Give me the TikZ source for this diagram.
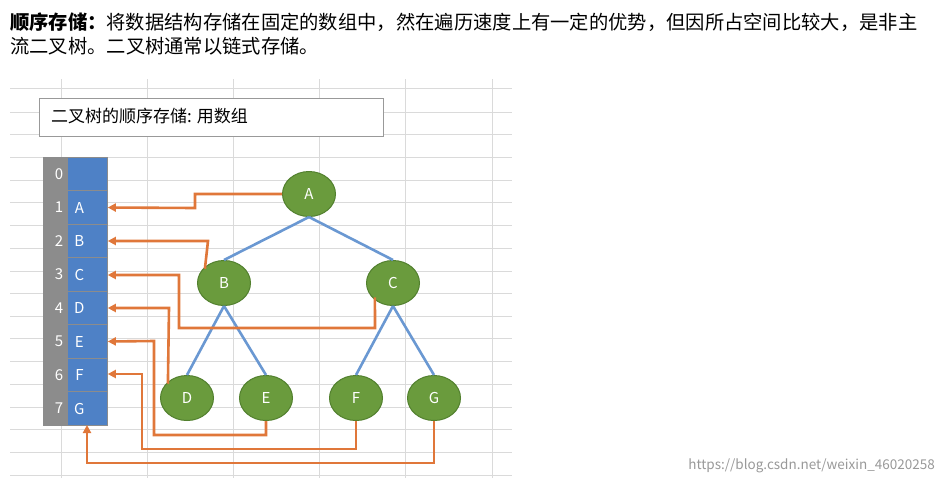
\documentclass[tikz,border=0pt]{standalone}
\usepackage{fontspec}
\setmainfont{Noto Sans CJK SC}
\usetikzlibrary{shapes.geometric,arrows.meta}
\definecolor{tg}{HTML}{6A9B3D}
\definecolor{tgd}{HTML}{52802E}
\definecolor{ab}{HTML}{4E81C6}
\definecolor{ag}{HTML}{8C8C8C}
\definecolor{orr}{HTML}{E0773A}
\definecolor{eb}{HTML}{6A98D2}
\definecolor{gl}{HTML}{DADADA}
\tikzset{
 tn/.style={ellipse,fill=tg,draw=tgd,line width=1pt,minimum width=53pt,minimum height=45pt,inner sep=0pt,text=white,font=\fontsize{15}{15}\selectfont},
 idx/.style={rectangle,fill=ag,draw=black!45,line width=0.8pt,minimum width=24pt,minimum height=33.5pt,inner sep=0pt,text=white,font=\fontsize{15}{15}\selectfont},
 val/.style={rectangle,fill=ab,draw=black!45,line width=0.8pt,minimum width=40pt,minimum height=33.5pt,inner sep=0pt,text=white,font=\fontsize{15}{15}\selectfont,anchor=west},
 te/.style={eb,line width=2.6pt},
 oa/.style={orr,line width=2.6pt,-{Triangle[length=8pt,width=8pt]}},
}
\begin{document}
\begin{tikzpicture}[x=1pt,y=-1pt]
\useasboundingbox (0,0) rectangle (942,483);
\fill[white] (0,0) rectangle (942,483);
% grid
\foreach \yy in {88,112,134,157,180,202,225,248,271,293,316,338,361,384,407,429,452,475}
  \draw[gl,line width=0.9pt] (10,\yy) -- (512,\yy);
\foreach \xx in {61,147,233,319,405,492}
  \draw[gl,line width=0.9pt] (\xx,79) -- (\xx,478);
% top text
\node[anchor=west,inner sep=0pt,font=\fontsize{19.3}{19}\selectfont] (t1) at (10,22) {\textbf{顺序存储：}将数据结构存储在固定的数组中，然在遍历速度上有一定的优势，但因所占空间比较大，是非主};
\node[anchor=west,inner sep=0pt,font=\fontsize{19.3}{19}\selectfont] (t2) at (10,46) {流二叉树。二叉树通常以链式存储。};
% title box
\node[draw=black!40,fill=white,line width=0.9pt,minimum width=344pt,minimum height=38pt,anchor=north west,inner sep=0pt] (box) at (39,98) {};
\node[anchor=west,inner sep=0pt,font=\fontsize{17}{17}\selectfont] (title) at (51,116) {二叉树的顺序存储: 用数组};
% array
\foreach \i/\v in {0/,1/A,2/B,3/C,4/D,5/E,6/F,7/G}{
  \node[idx] (i\i) at (55,{174+33.5*\i}) {\hspace*{8pt}\i};
  \node[val] (v\i) at (67,{174+33.5*\i}) {\hspace*{-16pt}\v};
}
\coordinate (gend) at (87,425);
% tree
\node[tn] (A) at (309,194) {A};
\node[tn] (B) at (224,283) {B};
\node[tn] (C) at (393,283) {C};
\node[tn] (D) at (187,398) {D};
\node[tn] (E) at (266,398) {E};
\node[tn] (F) at (356,398) {F};
\node[tn] (G) at (434,398) {G};
\draw[te] (A.south) -- (B.north);
\draw[te] (A.south) -- (C.north);
\draw[te] (B.south) -- (D.north);
\draw[te] (B.south) -- (E.north);
\draw[te] (C.south) -- (F.north);
\draw[te] (C.south) -- (G.north);
% orange
\draw[oa] (A.west) -- (195,194) -- (195,208) -- (v1.east);
\draw[oa] (B.north west) ++(0,2) -- (208,241) -- (v2.east);
\draw[oa] (C.south west) ++(1,-2) -- (375,328) -- (179,328) -- (179,275) -- (v3.east|-0,275);
\draw[oa] (D.north west) ++(0,2) -- (169,308) -- (v4.east|-0,308);
\draw[oa] (E.south) -- (266,435) -- (154,435) -- (154,341) -- (v5.east);
\draw[oa] (F.south) -- (356,449) -- (142,449) -- (142,374) -- (v6.east|-0,374);
\draw[oa] (G.south) -- (434,463) -- (87,463) -- (gend);
% watermark
\node[anchor=east,inner sep=0pt,text=black!40,font=\fontsize{13.5}{13}\selectfont] (wm) at (935,466) {https://blog.csdn.net/weixin\_46020258};
\end{tikzpicture}
\end{document}
